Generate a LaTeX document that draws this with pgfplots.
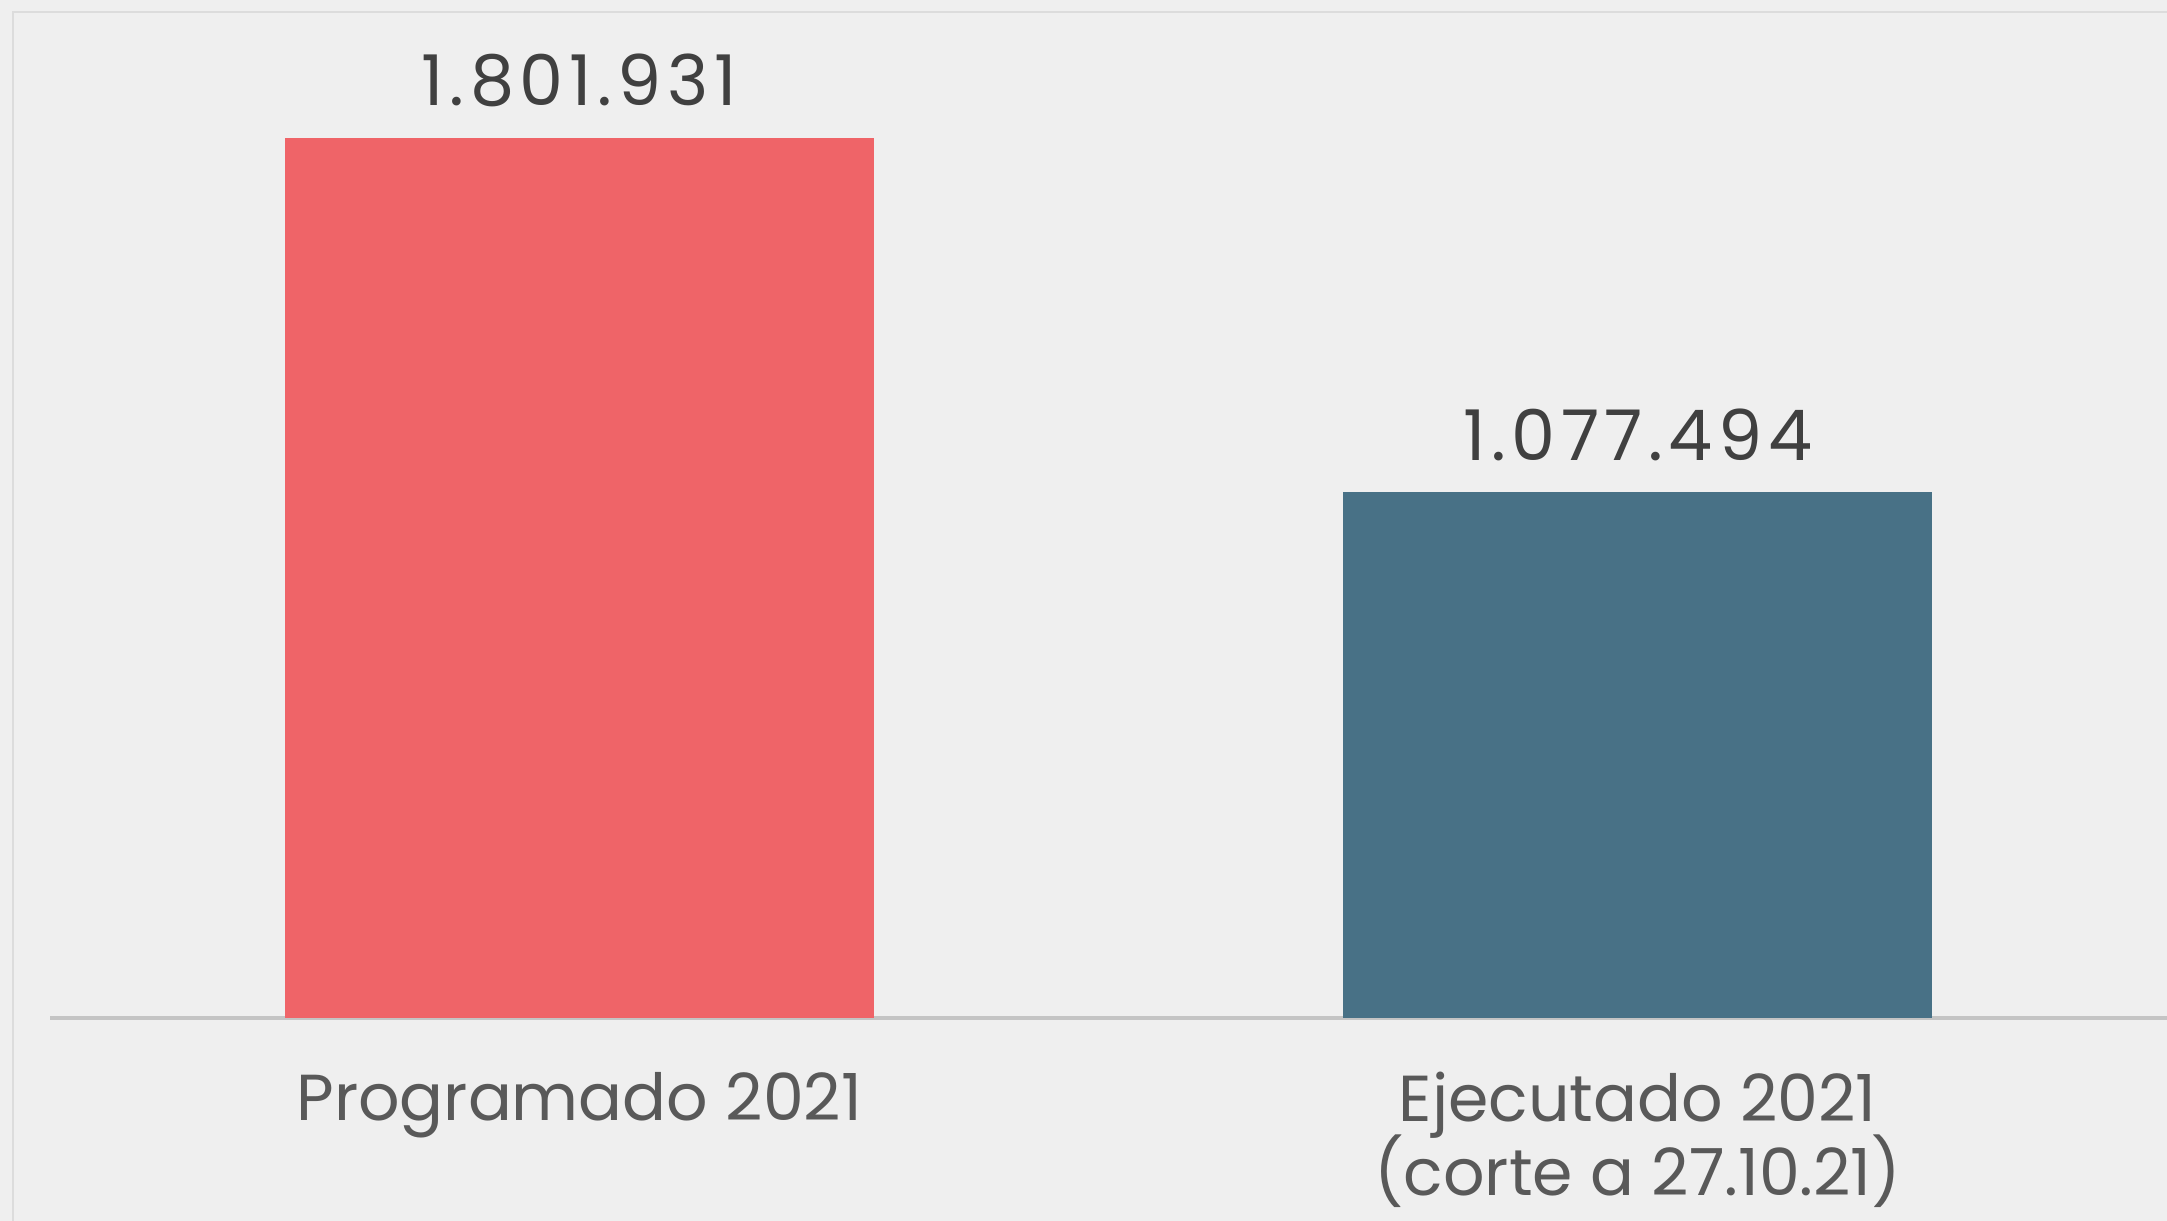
\documentclass[border=0pt]{standalone}
\usepackage{pgfplots}
\pgfplotsset{compat=1.18}
\usepackage{fontspec}
\setmainfont{Poppins}
\definecolor{bg}{HTML}{EFEFEF}
\definecolor{barred}{HTML}{EF6468}
\definecolor{barblue}{HTML}{487186}
\definecolor{valtxt}{HTML}{404040}
\definecolor{cattxt}{HTML}{595959}
\definecolor{axisgray}{HTML}{C4C4C4}
\definecolor{framegray}{HTML}{DCDCDC}
\begin{document}
\begin{tikzpicture}
\fill[bg] (0,0) rectangle (650.1pt,366.3pt);
\useasboundingbox (0,0) rectangle (650.1pt,366.3pt);
\draw[framegray, line width=0.6pt] (3.9pt,0) -- (3.9pt,362.7pt) -- (650.1pt,362.7pt);
\begin{axis}[
  at={(15pt,60.9pt)}, anchor=south west, scale only axis,
  width=635.1pt, height=293pt,
  xmin=-0.5, xmax=1.5, ymin=0, ymax=2000000,
  axis y line=none,
  axis x line*=bottom,
  x axis line style={draw=axisgray, line width=1pt, -},
  xtick={0,1},
  xticklabels={Programado 2021, {Ejecutado 2021\\[-2pt](corte a 27.10.21)}},
  major tick length=0pt,
  xticklabel style={font=\fontsize{19.5}{21}\selectfont, text=cattxt, align=center, anchor=north, inner sep=0pt, yshift=-16pt},
  ybar, bar width=176.7pt, bar shift=0pt,
  nodes near coords, point meta=explicit symbolic,
  every node near coord/.append style={font=\fontsize{21}{24}\selectfont\addfontfeature{LetterSpace=8}, text=valtxt, anchor=south, inner sep=0pt, yshift=9pt},
]
\addplot[fill=barred, draw=none] coordinates {(0,1801931) [1.801.931]};
\addplot[fill=barblue, draw=none] coordinates {(1,1077494) [1.077.494]};
\end{axis}
\end{tikzpicture}
\end{document}
